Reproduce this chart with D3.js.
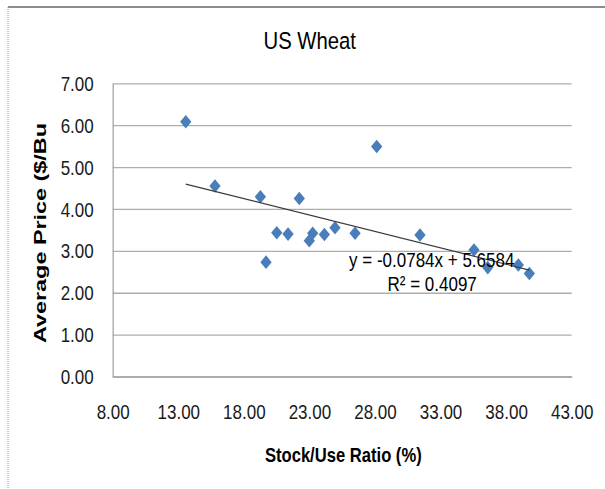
<!DOCTYPE html>
<html>
<head>
<meta charset="utf-8">
<script src="https://cdn.jsdelivr.net/npm/d3@7"></script>
<style>
  body { margin: 0; background: #fff; }
  svg { display: block; font-family: "Liberation Sans", Arial, sans-serif; }
</style>
</head>
<body>
<svg id="chart" width="605" height="489"></svg>
<script>
// Stock-to-use ratio (%) and average farm price ($/bu), one entry per marketing year
const stockUse = [13.57, 15.80, 19.26, 19.69, 20.51, 21.37, 22.23, 22.99, 23.25,
                  24.14, 24.95, 26.48, 28.13, 31.43, 35.55, 36.60, 38.93, 39.77];
const avgPrice = [6.08, 4.55, 4.29, 2.73, 3.43, 3.40, 4.25, 3.24, 3.42,
                  3.39, 3.55, 3.42, 5.49, 3.38, 3.02, 2.60, 2.66, 2.46];
const xTicks = [8, 13, 18, 23, 28, 33, 38, 43];
const yTicks = [0, 1, 2, 3, 4, 5, 6, 7];
const trendSlope = -0.0784;
const trendIntercept = 5.6584;
const trendR2 = 0.4097;
const chartTitle = "US Wheat";
const xTitle = "Stock/Use Ratio (%)";
const yTitle = "Average Price ($/Bu";

const points = stockUse.map((x, i) => ({ x, y: avgPrice[i] }));

const svg = d3.select("#chart");
const plot = { left: 112.7, right: 571.7, top: 83.3, bottom: 376.5 };
const vStretch = 1.2;

const x = d3.scaleLinear().domain([8, 43]).range([plot.left, plot.right]);
const y = d3.scaleLinear().domain([0, 7]).range([plot.bottom, plot.top]);

// chart frame
svg.append("line").attr("x1", 8).attr("x2", 605).attr("y1", 7).attr("y2", 7)
  .attr("stroke", "#8c8c8c").attr("stroke-width", 2);
svg.append("line").attr("x1", 8).attr("x2", 8).attr("y1", 7).attr("y2", 489)
  .attr("stroke", "#9a9a9a").attr("stroke-width", 1).attr("stroke-dasharray", "1,1");

// horizontal gridlines
svg.append("g")
  .attr("transform", `translate(${plot.left},0)`)
  .call(d3.axisLeft(y).tickValues(yTicks).tickSize(-(plot.right - plot.left)).tickFormat(""))
  .call(g => g.select(".domain").remove())
  .call(g => g.selectAll(".tick line").attr("stroke", "#adadad").attr("stroke-width", 1.3));

// y axis
const yAxis = svg.append("g")
  .attr("transform", `translate(${plot.left},0)`)
  .call(d3.axisLeft(y).tickValues(yTicks).tickSize(0).tickFormat(d3.format(".2f")));
yAxis.select(".domain").attr("stroke", "#a4a4a4").attr("stroke-width", 1.3);
yAxis.selectAll(".tick text")
  .attr("x", null).attr("dy", null)
  .attr("transform", `translate(-19,0) scale(1,${vStretch})`)
  .attr("dominant-baseline", "central")
  .attr("font-size", 17).attr("fill", "#1a1a1a")
  .attr("font-family", "Liberation Sans, Arial, sans-serif");

// x axis
const xAxis = svg.append("g")
  .attr("transform", `translate(0,${plot.bottom})`)
  .call(d3.axisBottom(x).tickValues(xTicks).tickSize(0).tickFormat(d3.format(".2f")));
xAxis.select(".domain").attr("stroke", "#a4a4a4").attr("stroke-width", 1.3);
xAxis.selectAll(".tick text")
  .attr("y", null).attr("dy", null)
  .attr("transform", `translate(0,42) scale(1,${vStretch})`)
  .attr("font-size", 17).attr("fill", "#1a1a1a")
  .attr("font-family", "Liberation Sans, Arial, sans-serif");

// data markers
const diamond = d3.symbol(d3.symbolSquare, 64);
svg.append("g").selectAll("path").data(points).join("path")
  .attr("d", diamond)
  .attr("transform", d => `translate(${x(d.x)},${y(d.y)}) scale(1,1.2) rotate(45)`)
  .attr("fill", "#4a7ebb");

// linear trendline over the data range
const xExt = d3.extent(stockUse);
const trend = xExt.map(v => ({ x: v, y: trendIntercept + trendSlope * v }));
svg.append("path")
  .datum(trend)
  .attr("d", d3.line().x(d => x(d.x)).y(d => y(d.y)))
  .attr("fill", "none").attr("stroke", "#3a3a3a").attr("stroke-width", 1.2);

// text helper with the chart's tall glyph proportions
function label(txt, cx, cy, size, weight) {
  return svg.append("text")
    .attr("transform", `translate(${cx},${cy}) scale(1,${vStretch})`)
    .attr("text-anchor", "middle")
    .attr("font-size", size)
    .attr("font-weight", weight)
    .attr("fill", "#000")
    .text(txt);
}

label(`y = ${trendSlope.toFixed(4)}x + ${trendIntercept.toFixed(4)}`, 431.7, 266.7, 17, "normal");
label(`R² = ${trendR2.toFixed(4)}`, 432.2, 290.7, 17, "normal");

label(chartTitle, 309.7, 49.3, 20.3, "normal");
label(xTitle, 343.3, 462.3, 16.6, "bold");

svg.append("text")
  .attr("transform", `translate(46,233) rotate(-90)`)
  .attr("text-anchor", "middle")
  .attr("font-size", 17)
  .attr("font-weight", "bold")
  .attr("textLength", 220)
  .attr("lengthAdjust", "spacingAndGlyphs")
  .attr("fill", "#000")
  .text(yTitle);
</script>
</body>
</html>
